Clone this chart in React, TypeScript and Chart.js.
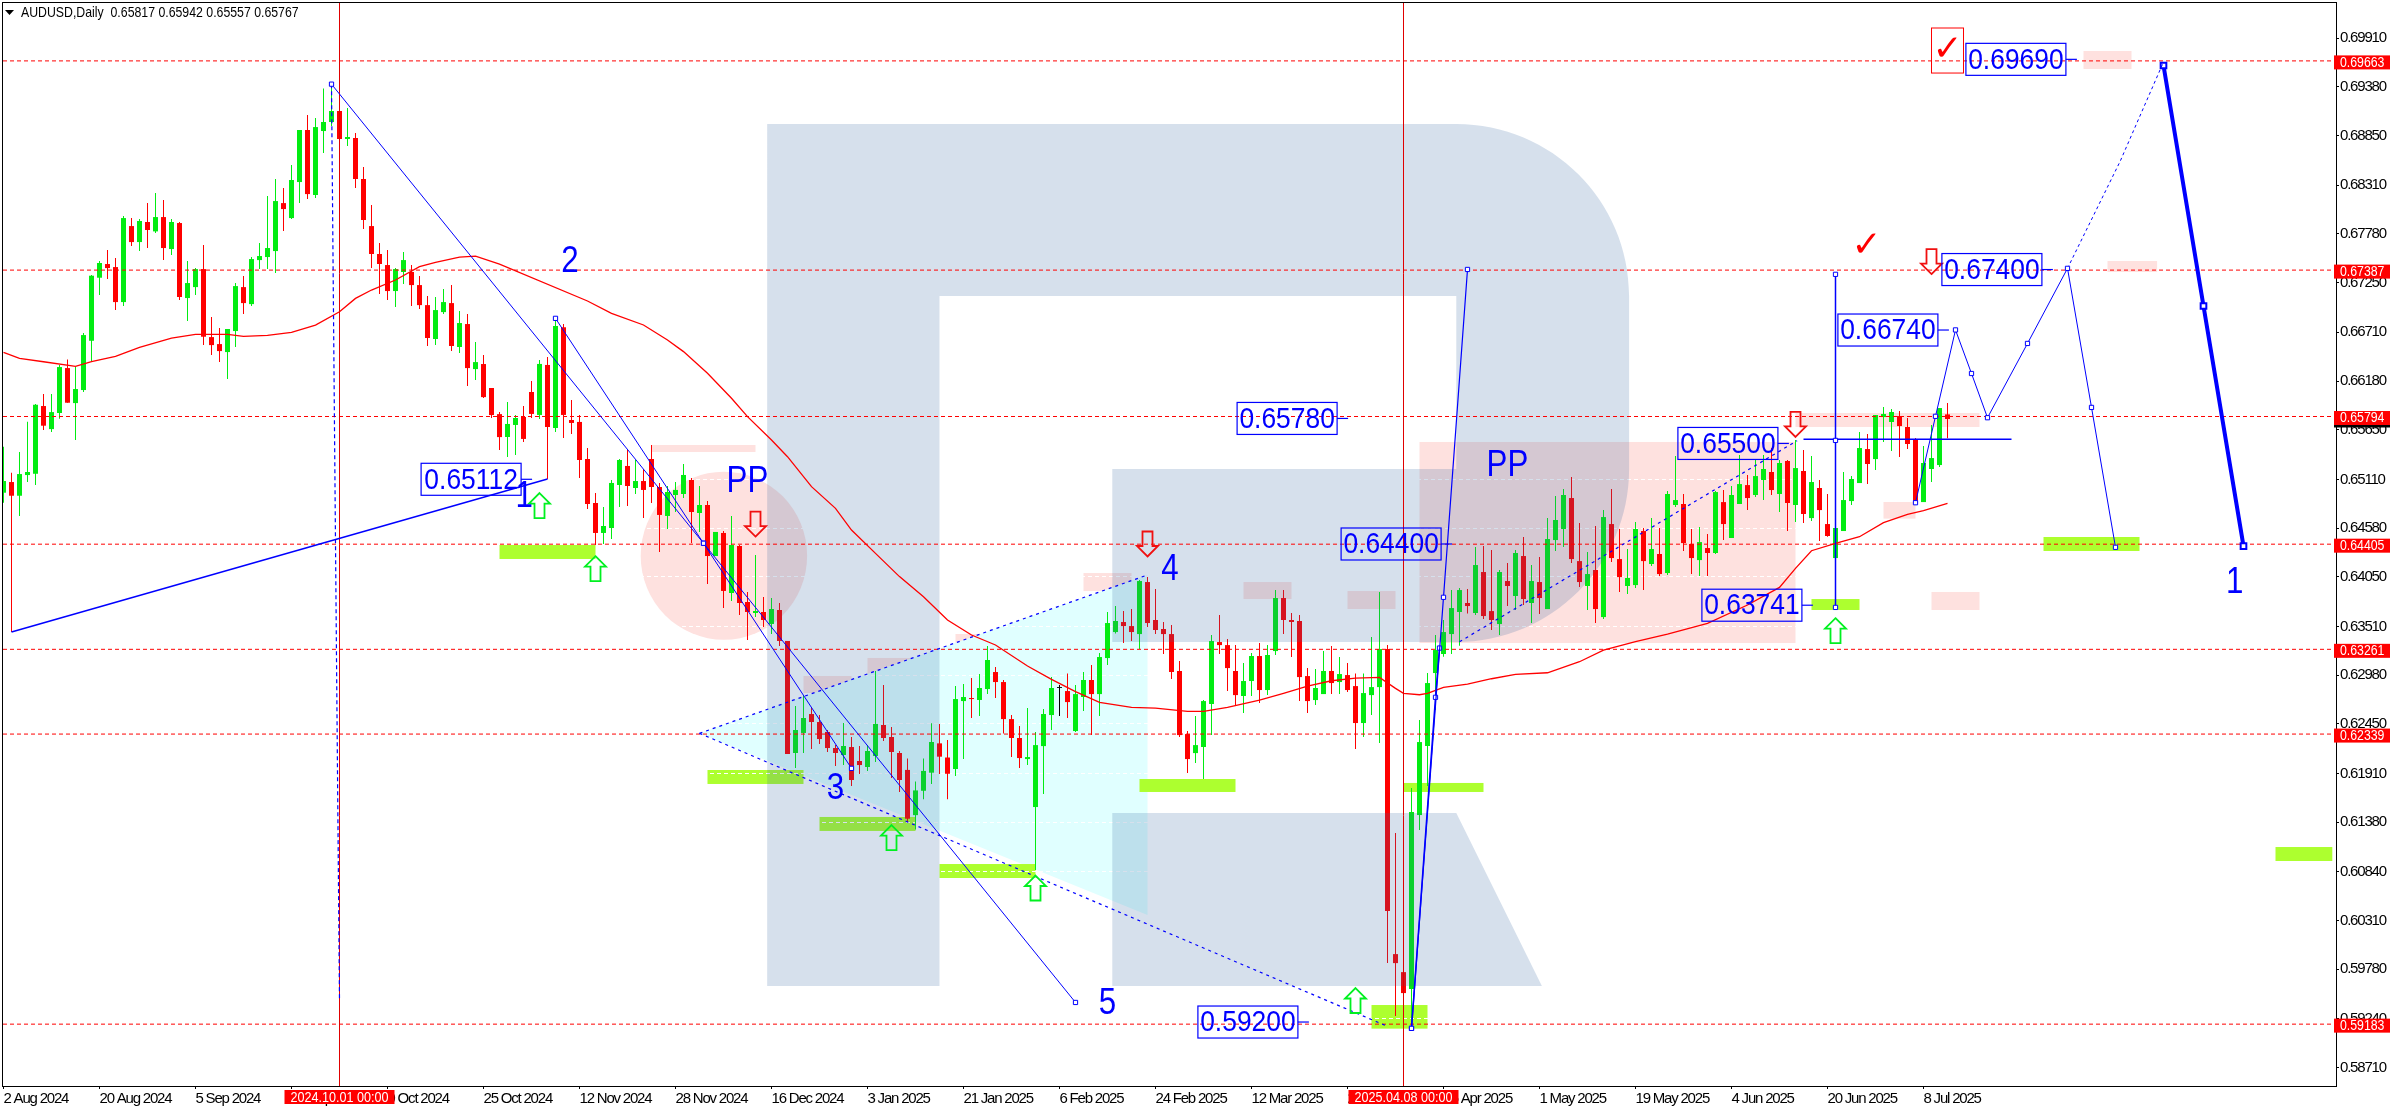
import React, { useEffect, useRef } from "react";
import { Chart, registerables } from "chart.js";

Chart.register(...registerables);

const highs = [
  .65465,.65182,.65407,.65737,.65929,.66038,.66038,.66354,.66415,.66336,
  .66702,.67333,.67485,.67605,.67518,.67975,.67953,.67942,.68116,.68225,
  .68149,.67942,.67910,.67485,.67409,.67659,.66876,.66756,.66746,.67246,
  .67322,.67529,.67681,.68193,.68378,.68280,.68530,.68911,.69074,.69041,
  .69363,.69400,.69200,.69150,.68878,.68508,.68095,.67681,.67605,.67409,
  .67583,.67442,.67322,.67104,.67094,.67181,.67224,.66941,.66909,.66604,
  .66463,.66104,.65842,.65952,.65811,.65909,.66181,.66409,.66442,.66844,
  .66801,.65974,.65811,.65452,.64962,.64810,.65103,.65332,.65430,.65321,
  .65223,.65484,.65071,.65038,.65082,.65278,.65125,.65038,.64875,.64538,
  .64549,.64712,.64396,.63885,.64287,.63830,.63820,.63765,.63352,.62644,
  .62764,.62633,.62546,.62383,.62220,.62460,.62307,.62209,.62220,.63025,
  .62873,.62416,.62155,.62073,.61822,.62073,.62456,.62449,.62275,.62862,
  .62884,.62949,.62993,.63297,.63069,.62927,.62546,.62426,.62622,.62361,
  .62611,.62959,.62872,.62999,.62872,.63014,.63090,.63220,.63667,.63732,
  .63678,.63699,.64015,.64047,.63917,.63558,.63525,.63133,.62372,.62535,
  .62709,.63416,.63634,.63373,.63307,.63112,.63220,.63329,.63307,.63906,
  .63906,.63656,.63634,.63057,.63046,.63242,.63297,.63177,.63112,.62999,
  .62999,.63395,.63884,.63307,.61262,.60020,.61752,.62491,.63003,.63416,
  .63580,.63906,.63928,.63917,.64374,.64385,.64341,.64124,.64200,.64341,
  .64483,.64178,.64265,.64689,.64929,.65005,.65136,.64635,.64320,.64602,
  .64776,.65005,.64570,.64352,.64646,.64581,.64689,.64581,.64983,.65364,
  .64950,.64570,.64591,.64515,.64983,.64994,.65038,.65375,.65157,.65321,
  .65375,.65451,.65321,.65321,.65538,.65429,.65364,.65103,.64951,.64581,
  .65190,.65146,.65625,.65603,.65810,.65897,.65875,.65854,.65778,.65560,
  .65473,.65701,.65886,.65942,
];
const lows = [
  .64856,.63449,.64711,.65081,.65048,.65647,.65625,.65770,.65944,.65538,
  .66060,.66390,.67115,.67289,.66952,.66996,.67649,.67594,.67627,.67790,
  .67496,.67551,.67061,.66833,.67115,.66571,.66463,.66386,.66201,.66550,
  .66909,.66996,.67398,.67398,.67355,.67812,.67942,.68116,.68160,.68171,
  .68661,.68954,.68813,.68737,.68280,.67833,.67409,.67126,.67061,.66985,
  .67235,.66996,.66963,.66561,.66571,.66909,.66506,.66484,.66125,.66190,
  .65995,.65777,.65429,.65354,.65375,.65517,.65778,.65767,.65114,.65626,
  .65560,.65604,.65125,.64788,.64396,.64407,.64461,.64810,.64820,.64951,
  .64690,.64853,.64320,.64570,.64755,.64908,.64418,.64538,.63972,.64276,
  .63711,.63787,.63635,.63362,.63613,.63504,.63428,.63297,.62122,.61970,
  .62133,.62176,.62231,.62144,.61991,.62002,.61774,.61904,.61937,.62035,
  .62264,.61861,.61709,.61380,.61302,.61630,.61795,.61904,.61630,.61883,
  .62068,.62514,.62536,.62775,.62731,.62346,.62089,.61969,.62002,.60859,
  .61686,.62383,.62535,.62513,.62361,.62589,.62328,.62535,.63090,.63434,
  .63329,.63351,.63264,.63503,.63427,.63210,.62938,.62306,.61915,.62024,
  .61849,.62328,.63210,.62807,.62644,.62568,.62753,.62676,.62763,.63199,
  .63427,.63177,.62698,.62568,.62655,.62774,.62774,.62774,.62796,.62176,
  .62306,.62546,.62241,.59847,.59271,.59320,.59137,.61295,.61773,.62600,
  .63181,.63210,.63300,.63652,.63634,.63591,.63471,.63416,.63732,.63688,
  .63743,.63547,.63645,.63699,.64330,.64374,.64200,.63939,.63688,.63547,
  .63590,.64211,.63884,.63862,.63928,.63906,.64167,.64058,.64069,.64809,
  .64330,.64080,.64058,.64058,.64298,.64450,.64472,.64842,.64777,.64918,
  .64885,.64940,.64755,.64548,.64646,.64635,.64657,.64439,.64486,.64254,
  .64548,.64831,.65070,.65059,.65212,.65516,.65418,.65353,.65440,.64867,
  .64863,.65081,.65244,.65557,
];
const opens = [
  .64965,.65081,.64932,.65157,.65171,.65908,.65657,.65832,.66321,.65940,
  .66082,.66618,.67304,.67453,.67420,.67039,.67866,.67692,.67910,.67808,
  .67964,.67616,.67899,.67083,.67202,.67398,.66658,.66582,.66495,.66724,
  .67202,.67017,.67496,.67529,.67594,.68116,.67953,.68345,.68911,.68204,
  .68900,.68998,.69118,.68813,.68824,.68378,.67866,.67562,.67442,.67159,
  .67366,.67366,.67224,.67006,.66637,.66930,.67028,.66550,.66800,.66310,
  .66365,.66104,.65820,.65571,.65702,.65789,.66061,.65811,.66355,.65669,
  .66765,.65756,.65735,.65332,.64853,.64527,.64581,.65049,.65256,.65016,
  .65092,.65332,.65027,.64712,.64940,.64951,.65103,.64744,.64831,.64276,
  .64527,.63874,.64385,.63776,.63656,.63667,.63537,.63689,.63352,.62133,
  .62351,.62557,.62470,.62362,.62187,.62111,.62198,.62046,.61981,.62100,
  .62438,.62307,.62133,.61949,.61457,.61722,.61919,.62238,.62084,.61959,
  .62698,.62731,.62710,.62829,.63014,.62905,.62502,.62296,.62067,.61545,
  .62208,.62546,.62845,.62807,.62372,.62742,.62927,.62774,.63166,.63449,
  .63558,.63514,.63427,.63993,.63580,.63482,.63427,.63025,.62339,.62132,
  .62198,.62666,.63340,.63307,.63025,.62753,.62916,.63188,.62818,.63242,
  .63819,.63580,.63569,.62970,.62709,.62774,.63025,.62905,.62981,.62861,
  .62459,.62763,.62850,.63264,.59945,.59749,.59565,.61458,.62209,.63003,
  .63210,.63427,.63667,.63765,.63656,.64102,.63677,.63536,.64004,.63841,
  .64276,.63765,.63993,.63699,.64450,.64570,.64907,.64221,.63950,.64124,
  .63612,.64624,.64243,.63950,.63960,.64548,.64189,.64298,.64091,.64831,
  .64842,.64407,.64232,.64363,.64309,.64863,.64472,.64842,.65048,.64940,
  .65103,.65190,.64951,.65310,.64831,.65201,.64689,.65016,.64624,.64254,
  .64548,.64874,.65070,.65440,.65331,.65788,.65734,.65799,.65680,.65549,
  .64863,.65223,.65266,.65817,
];
const closes = [
  .65092,.64932,.65168,.65190,.65922,.65694,.65842,.66332,.65944,.66093,
  .66680,.67326,.67464,.67409,.67039,.67953,.67692,.67921,.67823,.67964,
  .67627,.67910,.67094,.67246,.67398,.66662,.66571,.66506,.66746,.67213,
  .67028,.67507,.67540,.67627,.68138,.68051,.68367,.68911,.68214,.68943,
  .68998,.69118,.68813,.68835,.68378,.67932,.67562,.67453,.67159,.67398,
  .67496,.67224,.67006,.66648,.66952,.67039,.66561,.66811,.66321,.66386,
  .66005,.65810,.65570,.65713,.65778,.65550,.65822,.66366,.65680,.66779,
  .65811,.65724,.65321,.64842,.64527,.64603,.65071,.65321,.65038,.65092,
  .64995,.65027,.64723,.64973,.64995,.65158,.64755,.64831,.64276,.64538,
  .63896,.64396,.63765,.63667,.63678,.63580,.63700,.63352,.62122,.62383,
  .62514,.62470,.62285,.62187,.62133,.62209,.61839,.62002,.62155,.62449,
  .62296,.62144,.61839,.61418,.61726,.61938,.62253,.62093,.61907,.62720,
  .62742,.62720,.62840,.63145,.62905,.62502,.62296,.62078,.62089,.62219,
  .62557,.62840,.62845,.62687,.62774,.62927,.62774,.63177,.63547,.63569,
  .63514,.63449,.64004,.63547,.63471,.63427,.63014,.62328,.62067,.62219,
  .62698,.63351,.63307,.63057,.62763,.62916,.63188,.62818,.63199,.63819,
  .63580,.63558,.62959,.62698,.62840,.63025,.62894,.62992,.62818,.62459,
  .62785,.62850,.63264,.60413,.59847,.59521,.61490,.62252,.62894,.63253,
  .63449,.63710,.63906,.63732,.64178,.63623,.63580,.64102,.63950,.64309,
  .63808,.64004,.63819,.64461,.64668,.64940,.64243,.63993,.64080,.63699,
  .64700,.64254,.64047,.64037,.64570,.64221,.64352,.64080,.64951,.64885,
  .64417,.64254,.64428,.64309,.64972,.64624,.64940,.65059,.64907,.65146,
  .65223,.64994,.65288,.64853,.65233,.64733,.65081,.64776,.64494,.64581,
  .64885,.65114,.65451,.65277,.65810,.65821,.65843,.65690,.65495,.64874,
  .65288,.65342,.65886,.65767,
];

const maBars = [0,2,5,9,11,14,17,21,24,28,30,33,36,39,42,44,46,49,52,54,57,59,62,73,76,80,83,85,88,91,93,96,98,101,104,106,109,112,115,118,121,124,128,131,134,137,141,144,148,150,153,157,160,163,166,169,172,174,175,177,178,180,183,186,189,193,197,200,204,208,213,218,222,224,226,229,232,235,238,240,243];
const maValues = [.66492,.66426,.66390,.66339,.66390,.66448,.66546,.66648,.66687,.66687,.66666,.66677,.66709,.66789,.66934,.67079,.67170,.67279,.67424,.67471,.67529,.67540,.67453,.67051,.66917,.66790,.66627,.66500,.66264,.65992,.65793,.65539,.65357,.65031,.64795,.64559,.64305,.64052,.63834,.63580,.63417,.63308,.63079,.62934,.62800,.62684,.62629,.62622,.62586,.62586,.62629,.62709,.62782,.62861,.62919,.62948,.62956,.62836,.62782,.62767,.62782,.62847,.62883,.62941,.62988,.63006,.63126,.63253,.63344,.63427,.63543,.63743,.63935,.64142,.64334,.64414,.64486,.64639,.64729,.64769,.64849];

const yTickValues = [.6991,.6938,.6885,.6831,.6778,.6725,.6671,.6618,.6565,.6511,.6458,.6405,.6351,.6298,.6245,.6191,.6138,.6084,.6031,.5978,.5924,.5871];
const xTickBars = [0,12,24,36,48,60,72,84,96,108,120,132,144,156,168,180,192,204,216,228,240];
const xTickLabels = ["2 Aug 2024","20 Aug 2024","5 Sep 2024","23 Sep 2024","9 Oct 2024","25 Oct 2024","12 Nov 2024","28 Nov 2024","16 Dec 2024","3 Jan 2025","21 Jan 2025","6 Feb 2025","24 Feb 2025","12 Mar 2025","28 Mar 2025","15 Apr 2025","1 May 2025","19 May 2025","4 Jun 2025","20 Jun 2025","8 Jul 2025"];
const levels = [.69663,.67387,.65794,.64405,.63261,.62339,.59183];
const crossBars = [42,175];
const crossLabels = ["2024.10.01 00:00","2025.04.08 00:00"];
const lastPrice = .65767;
const title = "AUDUSD,Daily  0.65817 0.65942 0.65557 0.65767";

// [left bar, right bar, upper price, lower price]
const limeZones = [[62,74,.64396,.64244],[88,100,.61948,.61796],[102,114,.61437,.61285],[117,129,.60925,.60773],[142,154,.61850,.61709],[175,185,.61807,.61709],[171,178,.59391,.59134],[226,232,.63808,.63689],[255,267,.64483,.64331],[284,291.1,.61110,.60958]];
const pinkZones = [[81,94,.65484,.65408],[100,106,.62971,.62786],[108,114,.63167,.62971],[119,125,.63428,.63242],[135,141,.64091,.63895],[155,161,.63993,.63808],[168,174,.63895,.63700],[177,224,.65517,.63330],[224,247,.65832,.65680],[235,239,.64864,.64683],[260,266,.69771,.69575],[263,269.2,.67486,.67366],[241,247,.63885,.63689]];
const pinkEllipse = [90.05,.64279,10.4,.00914];
const cyanTriangle = [[87,.62347],[143,.64070],[143,.60370]];

// Watermark corners, as bars and prices
const logoOuter = { left:95.46, stem:117, inner:138.6, bowl:181.6, right:203.2, leg:192.3, top:.68976, barTop:.67105, midTop:.65223, midBottom:.63340, legTop:.61480, bottom:.59598 };

const wave1 = [[1,.63449],[68,.65114]];
const wave2 = [[41,.69410],[87.5,.64415],[134,.59419]];
const wave3 = [[69,.66862],[87.5,.64415],[106,.61966]];
const dropLine = [[41,.69410],[42,.59434]];
const triUpper = [[87,.62347],[143,.64070]];
const triLower = [[87,.62347],[173.1,.59155]];
const riseDotted = [[182,.63343],[224.2,.65531]];
const riseA = [[176,.59137],[180,.63827],[183,.67394]];
const riseB = [[176,.59137],[179,.62739],[179.5,.63275]];
const stemLine = [[229,.67341],[229,.65534],[229,.63717]];
const levelLine = [[225,.65546],[251,.65546]];
const zigzag = [[239,.64856],[241.5,.65796],[244,.66736],[246,.66262],[248,.65781],[253,.66589],[258,.67406],[261,.65893],[264,.64371]];
const forecastDotted = [[258,.67406],[264.6,.68574],[270,.69651]];
const forecastThick = [[270,.69613],[275,.66996],[280,.64383]];

const boxLabels: [string, number, number][] = [["0.65112",52.2,.65111],["0.65780",154.2,.65773],["0.64400",167.2,.64407],["0.59200",149.3,.59206],["0.65500",209.3,.65501],["0.66740",229.3,.66735],["0.67400",242.3,.67393],["0.69690",245.3,.69680],["0.63741",212.3,.63741]];
const waveNumbers: [string, number, number][] = [["2",70.8,.67475],["1",65.1,.64918],["3",104,.61745],["4",145.8,.64124],["5",138,.59403],["1",278.9,.63982],["PP",93,.65085],["PP",188,.65255]];
const downArrows = [[94,.64624],[143,.64407],[224,.65708],[241,.67480]];
const upArrows = [[67,.64825],[74,.64138],[111,.61213],[129,.60664],[169,.59440],[229,.63464]];
const checks = [[232.9,.67642],[243,.6978]];
const checkBox = [241,245,.70021,.69531];

const SANS = '"Liberation Sans",sans-serif';
const GREEN = "#02ec12";
const RED = "#ff0000";
const BLUE = "#0000ff";
const PINK = "#fee1df";
const LIME = "#adff2f";

const toXY = (pts: number[][]) => pts.map(([x, y]) => ({ x, y }));
const line = (pts: number[][], o: any = {}) => ({
  type: "line",
  data: toXY(pts),
  borderColor: o.color ?? BLUE,
  borderWidth: o.width ?? 1,
  borderDash: o.dash ?? [],
  pointRadius: o.node ?? 0,
  pointStyle: "rect",
  pointBackgroundColor: o.nodeFill ?? "#ffffff",
  pointBorderColor: o.color ?? BLUE,
  pointBorderWidth: o.nodeWidth ?? 1,
  tension: 0,
  fill: false,
  order: o.order ?? 5,
});

const squeezed = (ctx: any, txt: string, x: number, y: number, sx: number) => {
  ctx.save();
  ctx.translate(x, y);
  ctx.scale(sx, 1);
  ctx.fillText(txt, 0, 0);
  ctx.restore();
};

const overlay = {
  id: "overlay",
  beforeDraw(chart: any) {
    const { ctx, width, height } = chart;
    const X = (v: number) => chart.scales.x.getPixelForValue(v);
    const Y = (v: number) => chart.scales.y.getPixelForValue(v);
    ctx.letterSpacing = "-1.2px";
    ctx.save();
    ctx.fillStyle = "#ffffff";
    ctx.fillRect(0, 0, width, height);
    ctx.fillStyle = PINK;
    ctx.beginPath();
    ctx.ellipse(X(pinkEllipse[0]), Y(pinkEllipse[1]), pinkEllipse[2] * 8, Y(pinkEllipse[1] - pinkEllipse[3]) - Y(pinkEllipse[1]), 0, 0, Math.PI * 2);
    ctx.fill();
    for (const [a, b, t, d] of pinkZones) ctx.fillRect(X(a), Y(t), X(b) - X(a), Y(d) - Y(t));
    ctx.fillStyle = "#e0ffff";
    ctx.beginPath();
    cyanTriangle.forEach(([a, p], k) => (k ? ctx.lineTo(X(a), Y(p)) : ctx.moveTo(X(a), Y(p))));
    ctx.closePath();
    ctx.fill();
    ctx.fillStyle = LIME;
    for (const [a, b, t, d] of limeZones) ctx.fillRect(X(a), Y(t), X(b) - X(a), Y(d) - Y(t));
    ctx.restore();
  },
  afterDatasetDraw(chart: any, args: any) {
    if (args.index !== 1) return;
    const { ctx } = chart;
    const X = (v: number) => chart.scales.x.getPixelForValue(v);
    const Y = (v: number) => chart.scales.y.getPixelForValue(v);
    const L = logoOuter;
    const k = 0.5523;
    const bx = X(L.bowl), rx = X(L.right);
    const t = Y(L.top), bt = Y(L.barTop), mt = Y(L.midTop), mb = Y(L.midBottom);
    ctx.save();
    ctx.fillStyle = "rgba(50,100,160,0.2)";
    ctx.beginPath();
    ctx.moveTo(X(L.left), t);
    ctx.lineTo(bx, t);
    ctx.bezierCurveTo(bx + (rx - bx) * k, t, rx, bt - (bt - t) * k, rx, bt);
    ctx.lineTo(rx, mt);
    ctx.bezierCurveTo(rx, mt + (mb - mt) * k, bx + (rx - bx) * k, mb, bx, mb);
    ctx.lineTo(X(L.inner), mb);
    ctx.lineTo(X(L.inner), mt);
    ctx.lineTo(bx, mt);
    ctx.lineTo(bx, bt);
    ctx.lineTo(X(L.stem), bt);
    ctx.lineTo(X(L.stem), Y(L.bottom));
    ctx.lineTo(X(L.left), Y(L.bottom));
    ctx.closePath();
    ctx.moveTo(X(L.inner), Y(L.legTop));
    ctx.lineTo(bx, Y(L.legTop));
    ctx.lineTo(X(L.leg), Y(L.bottom));
    ctx.lineTo(X(L.inner), Y(L.bottom));
    ctx.closePath();
    ctx.fill();
    ctx.restore();
  },
  afterDraw(chart: any) {
    const { ctx, chartArea: a } = chart;
    const X = (v: number) => chart.scales.x.getPixelForValue(v);
    const Y = (v: number) => chart.scales.y.getPixelForValue(v);
    ctx.letterSpacing = "0px";
    ctx.save();
    // arrows
    const arrow = (x: number, y: number, dir: number, color: string) => {
      const w = 10.5, h = 12.5, s = 5, n = 2;
      ctx.strokeStyle = color;
      ctx.lineWidth = 1.8;
      ctx.beginPath();
      ctx.moveTo(x, y + dir * h);
      ctx.lineTo(x + w, y + dir * n);
      ctx.lineTo(x + s, y + dir * n);
      ctx.lineTo(x + s, y - dir * h);
      ctx.lineTo(x - s, y - dir * h);
      ctx.lineTo(x - s, y + dir * n);
      ctx.lineTo(x - w, y + dir * n);
      ctx.closePath();
      ctx.stroke();
    };
    downArrows.forEach(([i, p]) => arrow(X(i), Y(p), 1, "#f01010"));
    upArrows.forEach(([i, p]) => arrow(X(i), Y(p), -1, "#00f020"));
    // checks
    ctx.fillStyle = RED;
    ctx.font = 'bold 36px "DejaVu Sans"';
    ctx.textAlign = "center";
    ctx.textBaseline = "middle";
    checks.forEach(([i, p]) => ctx.fillText("\u2713", X(i), Y(p)));
    ctx.strokeStyle = RED;
    ctx.lineWidth = 1;
    ctx.strokeRect(X(checkBox[0]), Y(checkBox[2]), X(checkBox[1]) - X(checkBox[0]), Y(checkBox[3]) - Y(checkBox[2]));
    // boxed labels
    ctx.font = `30px ${SANS}`;
    boxLabels.forEach(([txt, i, p]) => {
      const x = X(i), y = Y(p);
      ctx.strokeStyle = BLUE;
      ctx.lineWidth = 1.2;
      ctx.strokeRect(x, y - 16, 100, 32);
      ctx.beginPath();
      ctx.moveTo(x + 100, y);
      ctx.lineTo(x + 111, y);
      ctx.stroke();
      ctx.fillStyle = BLUE;
      squeezed(ctx, txt, x + 50, y + 1, 0.88);
    });
    ctx.font = `36px ${SANS}`;
    waveNumbers.forEach(([txt, i, p]) => squeezed(ctx, txt, X(i), Y(p), 0.87));
    // title
    ctx.fillStyle = "#000000";
    ctx.beginPath();
    ctx.moveTo(5, 10);
    ctx.lineTo(14, 10);
    ctx.lineTo(9.5, 15);
    ctx.closePath();
    ctx.fill();
    ctx.textAlign = "left";
    ctx.font = `15px ${SANS}`;
    squeezed(ctx, title, 21, 13, 0.82);
    // frame
    ctx.strokeStyle = "#000000";
    ctx.lineWidth = 1;
    ctx.strokeRect(a.left - 0.5, a.top - 0.5, a.right - a.left + 1, a.bottom - a.top + 1);
    // price tags
    const tag = (v: number, fill: string, color: string, txt: string) => {
      const y = Y(v) + 1.5;
      ctx.fillStyle = fill;
      ctx.fillRect(a.right - 2, y - 7, 56, 14);
      ctx.fillStyle = color;
      squeezed(ctx, txt, a.right + 4, y, 0.82);
    };
    tag(lastPrice, "#000000", "#ffffff", lastPrice.toFixed(5));
    levels.forEach((v) => tag(v, "#ff0000", "#ffffff", v.toFixed(5)));
    // date tags
    crossBars.forEach((b, k) => {
      const x = X(b);
      ctx.fillStyle = "#ff0000";
      ctx.fillRect(x - 55, a.bottom + 4, 110, 14);
      ctx.fillStyle = "#ffffff";
      ctx.textAlign = "center";
      squeezed(ctx, crossLabels[k], x, a.bottom + 11.5, 0.84);
    });
    ctx.restore();
  },
};

export default function App() {
  const ref = useRef<HTMLCanvasElement>(null);
  useEffect(() => {
    const idx = highs.map((_, i) => i);
    const color = (i: number) => (opens[i] === closes[i] ? "#000000" : closes[i] > opens[i] ? GREEN : RED);
    const xMin = -0.0625, xMax = 291.5625, yMin = 0.5851, yMax = 0.70293;
    const chart = new Chart(ref.current as any, {
      type: "bar",
      data: {
        datasets: [
          {
            data: idx.map((i) => ({ x: i, y: [lows[i], highs[i]] })),
            backgroundColor: idx.map(color),
            barThickness: 1,
            grouped: false,
            borderWidth: 0,
            inflateAmount: 0,
            order: 100,
          },
          {
            data: idx.map((i) => ({
              x: i,
              y: opens[i] === closes[i] ? [opens[i] - 0.00005, opens[i] + 0.00005] : [Math.min(opens[i], closes[i]), Math.max(opens[i], closes[i])],
            })),
            backgroundColor: idx.map(color),
            barThickness: 5,
            grouped: false,
            borderWidth: 0,
            inflateAmount: 0,
            order: 99,
          },
          line(maBars.map((b, k) => [b, maValues[k]]), { color: RED, width: 1.3, order: 20 }),
          ...levels.map((v) => line([[xMin, v], [xMax, v]], { color: RED, dash: [4, 3], order: 10 })),
          ...crossBars.map((b) => line([[b, yMin], [b, yMax]], { color: "#e00000", order: 9 })),
          line(wave1, { width: 1.5 }),
          line(wave2, { node: 3 }),
          line(wave3, { node: 3 }),
          line(dropLine, { width: 1.2, dash: [4, 3] }),
          line(triUpper, { width: 1.2, dash: [3, 4] }),
          line(triLower, { width: 1.2, dash: [3, 4] }),
          line(riseDotted, { width: 1.2, dash: [3, 4] }),
          line(riseA, { width: 1.2, node: 3 }),
          line(riseB, { width: 1.5, node: 3 }),
          line(stemLine, { width: 1.5, node: 3 }),
          line(levelLine, { width: 1.5 }),
          line(zigzag, { node: 3 }),
          line(forecastDotted, { dash: [3, 3], node: 0 }),
          line(forecastThick, { width: 4, node: 4, nodeWidth: 2 }),
        ] as any,
      },
      options: {
        responsive: false,
        animation: false,
        devicePixelRatio: 1,
        layout: { autoPadding: false, padding: { left: 3, top: 3, right: 0, bottom: 0 } },
        plugins: { legend: { display: false }, tooltip: { enabled: false } },
        events: [],
        scales: {
          x: {
            type: "linear",
            offset: false,
            min: xMin,
            max: xMax,
            afterFit: (s: any) => { s.height = 24; s.paddingLeft = 0; s.paddingRight = 0; },
            afterBuildTicks: (s: any) => { s.ticks = xTickBars.map((value) => ({ value })); },
            grid: { display: true, drawOnChartArea: false, drawTicks: true, tickLength: 3, tickColor: "#000000", offset: false },
            border: { display: false },
            ticks: {
              autoSkip: false,
              maxRotation: 0,
              minRotation: 0,
              align: "start",
              padding: 1,
              color: "#000000",
              font: { family: SANS, size: 15 },
              callback: (v: any) => xTickLabels[xTickBars.indexOf(Number(v))] ?? "",
            },
          },
          y: {
            type: "linear",
            position: "right",
            min: yMin,
            max: yMax,
            afterFit: (s: any) => { s.width = 60; s.paddingTop = 0; s.paddingBottom = 0; },
            afterBuildTicks: (s: any) => { s.ticks = yTickValues.map((value) => ({ value })); },
            grid: { display: true, color: "#ffffff", lineWidth: 1, drawTicks: true, tickLength: 3, tickColor: "#000000", tickBorderDash: [] },
            border: { display: false, dash: [4, 3] },
            ticks: {
              autoSkip: false,
              padding: 1,
              color: "#000000",
              font: { family: SANS, size: 15 },
              callback: (v: any) => Number(v).toFixed(5),
            },
          },
        },
      } as any,
      plugins: [overlay as any],
    });
    return () => chart.destroy();
  }, []);
  return (
    <div style={{ position: "fixed", left: 0, top: 0, width: 2396, height: 1110, background: "#ffffff", overflow: "hidden" }}>
      <canvas ref={ref} width={2396} height={1110} style={{ display: "block" }} />
    </div>
  );
}
